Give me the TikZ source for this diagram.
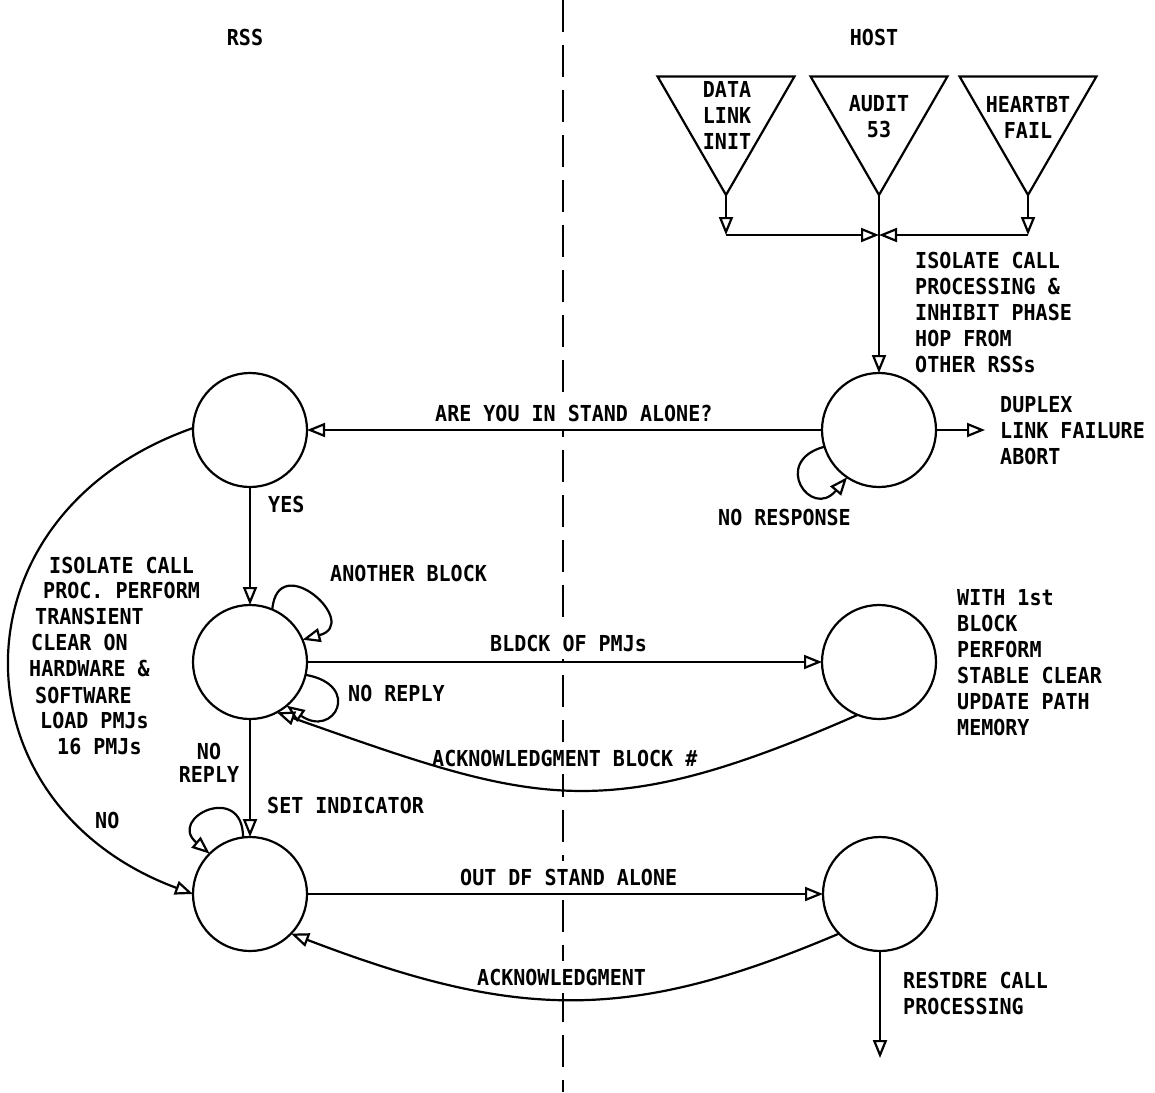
\documentclass[tikz,border=0pt]{standalone}
\usepackage{fontspec}
\newfontfamily\plotfont[FakeStretch=0.91]{DejaVu Sans Mono}
\usetikzlibrary{arrows.meta,shapes.geometric}
\begin{document}
\begin{tikzpicture}[x=1pt,y=1pt,
  txt/.style={inner sep=0pt, font=\plotfont\bfseries\fontsize{22}{26}\selectfont},
  lbl/.style={txt, anchor=west},
  blk/.style={txt, anchor=north west, align=left},
  cut/.style={fill=white, inner ysep=8pt},
  state/.style={circle, draw, line width=2.2pt, minimum size=114pt, inner sep=0pt, outer sep=0pt},
  trig/.style={regular polygon, regular polygon sides=3, shape border rotate=180, draw, line width=2.2pt, minimum size=158pt, inner sep=0pt, outer sep=0pt},
  conn/.style={line width=2.2pt, -{Triangle[open,length=18pt,width=14pt]}},
  divider/.style={line width=2.2pt, dash pattern=on 32pt off 13pt}
]
\useasboundingbox (0,0) rectangle (1155,-1092);

% divider between RSS and HOST
\draw[divider] (563,0) -- (563,-1092);

% headings
\node[txt] (rss) at (245,-37) {RSS};
\node[txt] (host) at (874,-37) {HOST};

% trigger triangles
\node[trig] (t1) at (726,-116) {};
\node[trig] (t2) at (879,-116) {};
\node[trig] (t3) at (1028,-116) {};
\node[txt, align=center] (t1l) at (727,-115) {DATA\\LINK\\INIT};
\node[txt, align=center] (t2l) at (879,-117) {AUDIT\\53};
\node[txt, align=center] (t3l) at (1028,-117) {HEARTBT\\FAIL};

\coordinate (jl) at (726,-235);
\coordinate (jm) at (879,-235);
\coordinate (jr) at (1028,-235);

% states
\node[state] (r1) at (250,-430) {};
\node[state] (r2) at (250,-662) {};
\node[state] (r3) at (250,-894) {};
\node[state] (h1) at (879,-430) {};
\node[state] (h2) at (879,-662) {};
\node[state] (h3) at (880,-894) {};
\coordinate (e1) at (985,-430);
\coordinate (e3) at (880,-1058);

% labels
\node[blk] (isoh) at (915,-252) {ISOLATE CALL\\PROCESSING \&\\INHIBIT PHASE\\HOP FROM\\OTHER RSSs};
\node[blk] (dup) at (1000,-396) {DUPLEX\\LINK FAILURE\\ABORT};
\node[lbl] (nores) at (718,-517) {NO RESPONSE};
\node[lbl, cut] (areyou) at (435,-413) {ARE YOU IN STAND ALONE?};
\node[lbl] (yes) at (268,-504) {YES};
\node[lbl] (anoth) at (330,-573) {ANOTHER BLOCK};
\node[lbl, cut] (blk) at (490,-643) {BLDCK OF PMJs};
\node[lbl] (noreply) at (348,-693) {NO REPLY};
\node[blk] (with) at (957,-589) {WITH 1st\\BLOCK\\PERFORM\\STABLE CLEAR\\UPDATE PATH\\MEMORY};
\node[lbl, cut] (ackb) at (432,-758) {ACKNOWLEDGMENT BLOCK \#};
\foreach \x/\y/\t [count=\i] in {49/565/ISOLATE CALL, 43/590/PROC. PERFORM, 35/616/TRANSIENT, 31/642/CLEAR ON, 29/668/HARDWARE \&, 35/695/SOFTWARE, 40/720/LOAD PMJs, 57/747/16 PMJs}
  \node[lbl] (iso\i) at (\x,-\y) {\t};
\node[lbl] (no) at (95,-820) {NO};
\node[txt, align=center] (noreply2) at (209,-763) {NO\\[-3pt]REPLY};
\node[lbl] (setind) at (267,-805) {SET INDICATOR};
\node[lbl, cut] (outsa) at (460,-877) {OUT DF STAND ALONE};
\node[lbl, cut] (ack) at (477,-977) {ACKNOWLEDGMENT};
\node[blk] (restore) at (903,-972) {RESTDRE CALL\\PROCESSING};

% connectors
\draw[conn] (t1.south) -- (jl);
\draw[conn] (t3.south) -- (jr);
\draw[conn] (jl) -- (jm);
\draw[conn] (jr) -- (jm);
\draw[conn] (t2.south) -- (h1.north);
\draw[conn] (h1.west) -- (r1.east);
\draw[conn] (h1.east) -- (e1);
\draw[conn] (h1.-163) to[out=195,in=230,distance=56pt] (h1.-124);
\draw[conn] (r1.south) -- (r2.north);
\draw[conn] (r2.south) -- (r3.north);
\draw[conn] (r2.east) -- (h2.west);
\draw[conn] (r3.east) -- (h3.west);
\draw[conn] (h3.south) -- (e3);
\draw[conn] (r1.178) .. controls (-52,-514) and (-50,-804) .. (r3.180);
\draw[conn] (r2.67) to[out=85,in=15,distance=62pt] (r2.23);
\draw[conn] (r2.-13) to[out=-10,in=-35,distance=58pt] (r2.-50);
\draw[conn] (r3.97) to[out=90,in=140,distance=56pt] (r3.135);
\draw[conn] (h2.-112) .. controls (600,-828) and (534,-803) .. (r2.-62);
\draw[conn] (h3.-136) .. controls (629,-1023) and (517,-1020) .. (r3.-44);
\end{tikzpicture}
\end{document}
